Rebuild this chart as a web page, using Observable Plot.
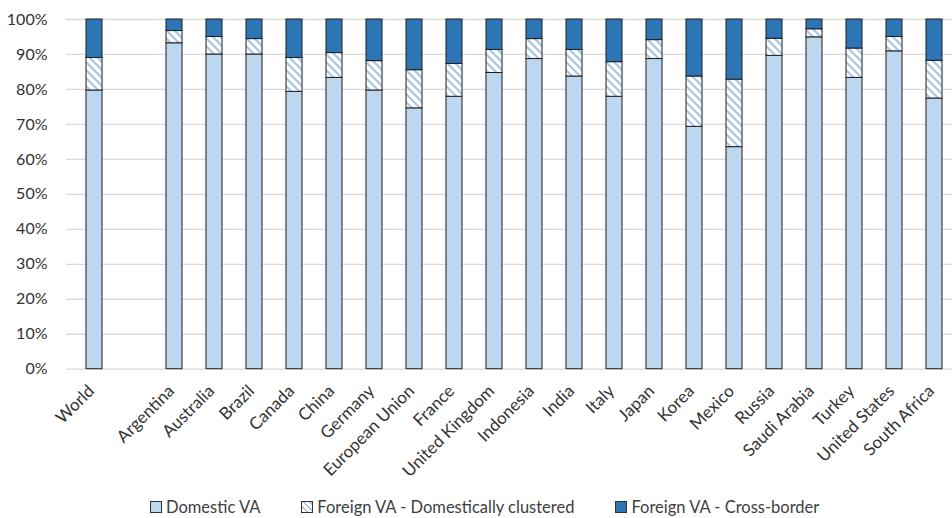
<!DOCTYPE html>
<html><head><meta charset="utf-8">
<script src="https://cdn.jsdelivr.net/npm/d3@7"></script>
<script src="https://cdn.jsdelivr.net/npm/@observablehq/plot@0.6"></script>
<style>
body{margin:0;background:#fff;font-family:Lato,sans-serif;overflow:hidden;width:952px;height:518px;position:relative}
#legend{position:absolute;left:150px;top:497px;height:20px;line-height:20px;display:flex;align-items:center;font-size:16.5px;color:#404040;white-space:nowrap}
.item{display:flex;align-items:center;margin-right:41px}
.sw{width:10px;height:10px;border:1px solid #333;margin-right:4px;box-sizing:content-box}
</style></head><body><div id="chart"></div><div id="legend"></div>
<script>
const categories = ["World","","Argentina","Australia","Brazil","Canada","China","Germany","European Union","France","United Kingdom","Indonesia","India","Italy","Japan","Korea","Mexico","Russia","Saudi Arabia","Turkey","United States","South Africa"];
const domestic    = [79.7,null,93.2,90.0,90.0,79.3,83.3,79.7,74.6,77.9,84.7,88.7,83.7,77.9,88.7,69.3,63.5,89.6,94.9,83.3,90.9,77.4];
const clustered   = [9.3,null,3.5,5.0,4.4,9.7,7.1,8.4,10.9,9.4,6.6,5.7,7.6,9.9,5.4,14.4,19.3,4.9,2.3,8.4,4.1,10.8];
const crossBorder = [11.0,null,3.3,5.0,5.6,11.0,9.6,11.9,14.5,12.7,8.7,5.6,8.7,12.2,5.9,16.3,17.2,5.5,2.8,8.3,5.0,11.8];
const series = ["Domestic VA","Foreign VA - Domestically clustered","Foreign VA - Cross-border"];
const colors = ["#BDD7EE","url(#hatch)","#2E75B6"];
const yTicks = [0,10,20,30,40,50,60,70,80,90,100];

const data = [];
categories.forEach((c,i)=>{
  if (domestic[i] == null) return;
  [domestic, clustered, crossBorder].forEach((arr,k)=>data.push({country:c, series:series[k], value:arr[i]}));
});

const plot = Plot.plot({
  width:952, height:490,
  marginLeft:66, marginRight:-10, marginTop:19, marginBottom:121.3,
  style:{fontFamily:"Lato, sans-serif", fontSize:"16px", color:"#333", background:"transparent"},
  x:{domain:categories, paddingInner:0.61, paddingOuter:0.305, axis:null, label:null},
  y:{domain:[0,100], axis:null, label:null},
  color:{domain:series, range:colors},
  marks:[
    Plot.gridY(yTicks,{stroke:"#d9d9d9", strokeOpacity:1, strokeWidth:1.3}),
    Plot.barY(data, Plot.stackY({x:"country", y:"value", fill:"series", order:series, stroke:"#1f1f1f", strokeWidth:1})),
    Plot.axisY(yTicks,{tickSize:0, tickPadding:19, tickFormat:d=>d+"%", fill:"#333", label:null}),
    Plot.axisX({tickSize:0, tickRotate:-45, tickPadding:8, dx:-3, dy:11, fontSize:17, fill:"#333", label:null})
  ]
});

const svg = d3.select(plot);
const defs = svg.insert("defs", ":first-child");
const p = defs.append("pattern").attr("id","hatch").attr("patternUnits","userSpaceOnUse").attr("width",8).attr("height",8);
p.append("rect").attr("width",8).attr("height",8).attr("fill","#fff");
p.append("path").attr("d","M-2,-2L10,10M-2,6L2,10M6,-2L10,2").attr("stroke","#A9C6E6").attr("stroke-width",2.2);
document.getElementById("chart").appendChild(plot);

const lg = d3.select("#legend");
series.forEach((s,k)=>{
  const it = lg.append("div").attr("class","item");
  const sw = it.append("div").attr("class","sw");
  if (k===1) sw.style("background","repeating-linear-gradient(45deg,#fff 0 3px,#A9C6E6 3px 4.5px)");
  else sw.style("background", colors[k]);
  it.append("span").text(s);
});
</script></body></html>
